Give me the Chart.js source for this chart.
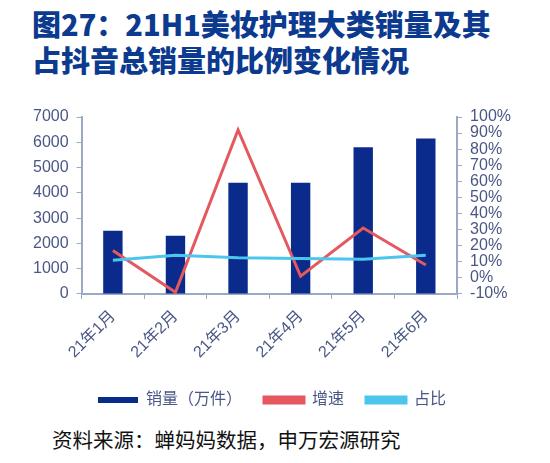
<!DOCTYPE html>
<html>
<head>
<meta charset="utf-8">
<script src="https://cdn.jsdelivr.net/npm/chart.js@4"></script>
<style>
  body { margin: 0; background: #fff; width: 550px; height: 463px; position: relative; overflow: hidden; }
  #title {
    position: absolute; left: 32px; top: 5px;
    font: 900 29px "Noto Sans CJK SC", sans-serif;
    line-height: 36px; color: #0B3A8F;
  }
  #chartBox { position: absolute; left: 0; top: 90px; width: 550px; height: 328px; }
  #source {
    position: absolute; left: 52px; top: 424px;
    font: 20.5px "Noto Sans CJK SC", sans-serif; color: #111;
  }
</style>
</head>
<body>
<div id="title">图27：21H1美妆护理大类销量及其<br>占抖音总销量的比例变化情况</div>
<div id="chartBox"><canvas id="chart"></canvas></div>
<div id="source">资料来源：蝉妈妈数据，申万宏源研究</div>
<script>
const months = ['21年1月', '21年2月', '21年3月', '21年4月', '21年5月', '21年6月'];
const sales = [2500, 2300, 4400, 4400, 5800, 6150];
const growth = [17, -9, 92, 1, 31, 8];
const share = [11, 14, 12.5, 12, 11.5, 14];

const tickColor = '#4A5785';
const axisColor = '#9AAAC4';
const fontFamily = 'Arial, "Liberation Sans", "Noto Sans CJK SC", sans-serif';

document.addEventListener('DOMContentLoaded', function () {
  let ctx = document.getElementById('chart').getContext('2d');

  new Chart(ctx, {
    data: {
      labels: months,
      datasets: [
        {
          type: 'bar',
          label: '销量（万件）',
          data: sales,
          backgroundColor: '#0B2B8C',
          borderWidth: 0,
          barPercentage: 0.31,
          categoryPercentage: 1,
          yAxisID: 'y',
          order: 3,
        },
        {
          type: 'line',
          label: '增速',
          data: growth,
          borderColor: '#E4585E',
          backgroundColor: '#E4585E',
          borderWidth: 3,
          pointRadius: 0,
          tension: 0,
          yAxisID: 'y1',
          order: 2,
        },
        {
          type: 'line',
          label: '占比',
          data: share,
          borderColor: '#4CC6EC',
          backgroundColor: '#4CC6EC',
          borderWidth: 3,
          pointRadius: 0,
          tension: 0,
          yAxisID: 'y1',
          order: 1,
        },
      ],
    },
    options: {
      responsive: true,
      maintainAspectRatio: false,
      animation: false,
      layout: { padding: { left: 25, right: 31, top: 27, bottom: 0 } },
      plugins: {
        tooltip: { enabled: false },
        legend: {
          position: 'bottom',
          labels: {
            boxWidth: 40,
            boxHeight: 6,
            padding: 22,
            color: tickColor,
            font: { family: fontFamily, size: 16 },
            sort: (a, b) => a.datasetIndex - b.datasetIndex,
          },
        },
      },
      scales: {
        x: {
          grid: { display: true, drawOnChartArea: false, color: axisColor, tickLength: 5, offset: true },
          border: { color: axisColor, width: 2 },
          ticks: {
            color: tickColor,
            font: { family: fontFamily, size: 16 },
            maxRotation: 45,
            minRotation: 45,
            padding: 8,
          },
        },
        y: {
          position: 'left',
          min: 0,
          max: 7000,
          grid: { display: true, drawOnChartArea: false, color: axisColor, tickLength: 5 },
          border: { color: axisColor, width: 2 },
          ticks: {
            stepSize: 1000,
            autoSkip: false,
            color: tickColor,
            font: { family: fontFamily, size: 16 },
            padding: 8,
            callback: (v) => String(v),
          },
        },
        y1: {
          position: 'right',
          min: -10,
          max: 100,
          grid: { display: true, drawOnChartArea: false, color: axisColor, tickLength: 5 },
          border: { color: axisColor, width: 2 },
          ticks: {
            stepSize: 10,
            autoSkip: false,
            color: tickColor,
            font: { family: fontFamily, size: 16 },
            padding: 8,
            callback: (v) => v + '%',
          },
        },
      },
    },
  });
});
</script>
</body>
</html>
